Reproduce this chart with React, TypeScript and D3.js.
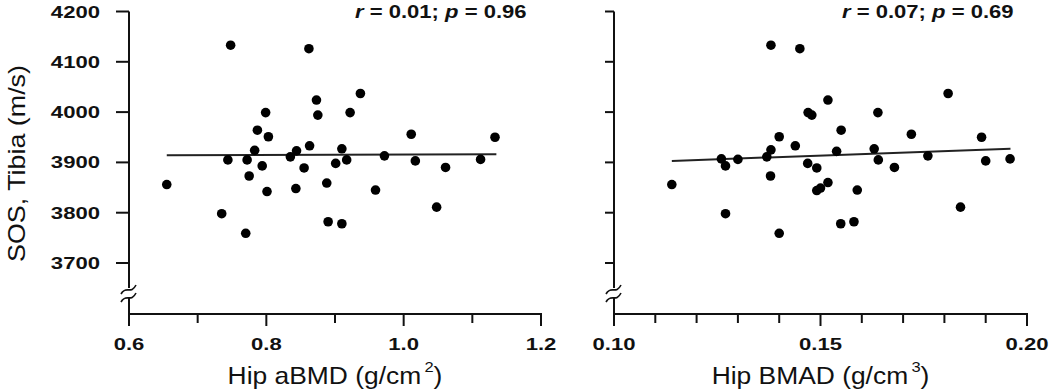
import React from "react";
import * as d3 from "d3";

// Hip aBMD (g/cm2) vs tibia SOS (m/s)
const hipABMD = [
  0.748, 0.862, 0.873, 0.799, 0.875, 0.787, 0.803, 0.783, 0.863, 0.844,
  0.744, 0.772, 0.835, 0.794, 0.855, 0.901, 0.775, 0.655, 0.801, 0.843,
  0.888, 0.735, 0.890, 0.770, 0.937, 0.922, 0.910, 0.917, 1.011, 1.133,
  0.972, 1.017, 1.061, 1.112, 0.959, 1.048, 0.910,
];
const sosLeft = [
  4133, 4126, 4024, 3999, 3994, 3964, 3951, 3924, 3933, 3923,
  3905, 3905, 3911, 3893, 3889, 3898, 3873, 3856, 3842, 3848,
  3859, 3798, 3782, 3759, 4037, 3999, 3927, 3905, 3956, 3950,
  3913, 3903, 3890, 3906, 3845, 3811, 3778,
];

// Hip BMAD (g/cm3) vs tibia SOS (m/s)
const hipBMAD = [
  0.138, 0.145, 0.1518, 0.147, 0.1479, 0.14, 0.1439, 0.138, 0.137, 0.126,
  0.127, 0.13, 0.1469, 0.1491, 0.1379, 0.114, 0.1518, 0.1491, 0.15, 0.127,
  0.14, 0.1639, 0.155, 0.172, 0.1809, 0.189, 0.1539, 0.163, 0.164, 0.1679,
  0.176, 0.19, 0.1959, 0.1589, 0.1839, 0.1549, 0.1581,
];
const sosRight = [
  4133, 4126, 4024, 3999, 3994, 3951, 3933, 3925, 3911, 3907,
  3893, 3906, 3898, 3889, 3873, 3856, 3860, 3844, 3849, 3798,
  3759, 3999, 3964, 3956, 4037, 3950, 3922, 3927, 3905, 3890,
  3913, 3903, 3907, 3845, 3811, 3778, 3782,
];

// regression lines: [x0, y0, x1, y1]
const fitLeft = [0.655, 3914, 1.135, 3916];
const fitRight = [0.114, 3903, 0.196, 3927];

const yTicks = [3700, 3800, 3900, 4000, 4100, 4200];
const xTicksLeft = [0.6, 0.8, 1.0, 1.2];
const xMinorLeft = [0.7, 0.9, 1.1];
const xTicksRight = [0.1, 0.15, 0.2];
const xMinorRight = [0.11, 0.12, 0.13, 0.14, 0.16, 0.17, 0.18, 0.19];

const ink = "#111";
const font = "'Liberation Sans', Arial, sans-serif";

const yScale = d3.scaleLinear().domain([3700, 4200]).range([263, 11.5]);
const axisBottom = 314;
const breakY = 288;

const Panel = ({ xs, ys, fit, domain, range, ticks, minor, fmt, showYLabels, yTickLen, stat, statX, label, sup }) => {
  const x = d3.scaleLinear().domain(domain).range(range);
  const ax = range[0];
  const line = d3.line().x((d) => x(d[0])).y((d) => yScale(d[1]));
  const brk = (y0) =>
    `M${ax - 8},${y0 + 6} C${ax - 3},${y0 - 3} ${ax + 2},${y0 + 7} ${ax + 7},${y0 - 3}`;

  return (
    <g>
      {/* y axis with break */}
      <line x1={ax} x2={ax} y1={yScale(4200)} y2={breakY} stroke={ink} strokeWidth={2} />
      <line x1={ax} x2={ax} y1={breakY + 9} y2={axisBottom + 1} stroke={ink} strokeWidth={2} />
      <path d={brk(breakY)} fill="none" stroke={ink} strokeWidth={1.6} />
      <path d={brk(breakY + 8)} fill="none" stroke={ink} strokeWidth={1.6} />
      {yTicks.map((t) => (
        <g key={t}>
          <line x1={ax - yTickLen} x2={ax} y1={yScale(t)} y2={yScale(t)} stroke={ink} strokeWidth={2} />
          {showYLabels && (
            <g transform={`translate(${ax - 29},${yScale(t) + 6}) scale(1.3,1)`}>
              <text textAnchor="end" fontFamily={font} fontWeight="bold" fontSize={17} fill={ink}>
                {t}
              </text>
            </g>
          )}
        </g>
      ))}

      {/* x axis */}
      <line x1={ax - 1} x2={range[1] + 1} y1={axisBottom} y2={axisBottom} stroke={ink} strokeWidth={2} />
      {ticks.map((t) => (
        <g key={t}>
          <line x1={x(t)} x2={x(t)} y1={axisBottom} y2={axisBottom + 12} stroke={ink} strokeWidth={2} />
          <g transform={`translate(${x(t)},350) scale(1.3,1)`}>
            <text textAnchor="middle" fontFamily={font} fontWeight="bold" fontSize={17} fill={ink}>
              {fmt(t)}
            </text>
          </g>
        </g>
      ))}
      {minor.map((t) => (
        <line key={t} x1={x(t)} x2={x(t)} y1={axisBottom} y2={axisBottom + 9} stroke={ink} strokeWidth={2} />
      ))}

      {/* fit line and points */}
      <path d={line([[fit[0], fit[1]], [fit[2], fit[3]]])} fill="none" stroke="#222" strokeWidth={2} />
      {xs.map((v, i) => (
        <circle key={i} cx={x(v)} cy={yScale(ys[i])} r={4.8} fill="#000" />
      ))}

      {/* stats */}
      <g transform={`translate(${statX},18.3) scale(1.26,1)`}>
        <text fontFamily={font} fontWeight="bold" fontSize={17.5} fill={ink}>
          <tspan fontStyle="italic">r</tspan>
          {` = ${stat[0]}; `}
          <tspan fontStyle="italic">p</tspan>
          {` = ${stat[1]}`}
        </text>
      </g>

      {/* x label */}
      <g transform={`translate(${(range[0] + range[1]) / 2},384) scale(1.1,1)`}>
        <text textAnchor="middle" fontFamily={font} fontSize={24} fill={ink}>
          {label}
          <tspan fontSize={15} dy={-12} dx={3}>{sup}</tspan>
          <tspan dy={12}>)</tspan>
        </text>
      </g>
    </g>
  );
};

export default function App() {
  return (
    <svg
      width={1050}
      height={392}
      style={{ position: "absolute", left: 0, top: 0, background: "#fff" }}
    >
      <text
        transform="translate(25,163.5) rotate(-90)"
        textAnchor="middle"
        fontFamily={font}
        fontSize={24}
        fill={ink}
        textLength={197}
        lengthAdjust="spacingAndGlyphs"
      >
        SOS, Tibia (m/s)
      </text>
      <Panel
        xs={hipABMD}
        ys={sosLeft}
        fit={fitLeft}
        domain={[0.6, 1.2]}
        range={[129, 541]}
        ticks={xTicksLeft}
        minor={xMinorLeft}
        fmt={d3.format(".1f")}
        showYLabels={true}
        yTickLen={13}
        stat={["0.01", "0.96"]}
        statX={355}
        label="Hip aBMD (g/cm"
        sup="2"
      />
      <Panel
        xs={hipBMAD}
        ys={sosRight}
        fit={fitRight}
        domain={[0.1, 0.2]}
        range={[614, 1027]}
        ticks={xTicksRight}
        minor={xMinorRight}
        fmt={d3.format(".2f")}
        showYLabels={false}
        yTickLen={9}
        stat={["0.07", "0.69"]}
        statX={842}
        label="Hip BMAD (g/cm"
        sup="3"
      />
    </svg>
  );
}
